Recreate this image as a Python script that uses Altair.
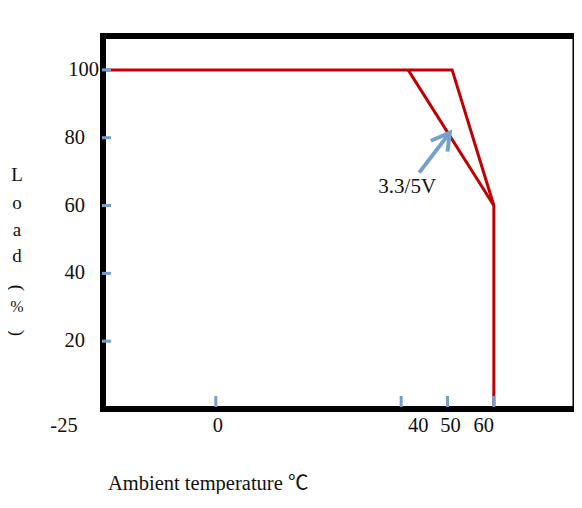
import altair as alt
import pandas as pd

# ---------------- data ----------------
x_tick_values = [0, 40, 50, 60]
x_label_values = [-25, 0, 40, 50, 60]
y_tick_values = [20, 40, 60, 80, 100]
y_label_values = [20, 40, 60, 80, 100]

main_temp = [-25, 51, 60, 60]
main_load = [100, 100, 60, 0]
v33_temp = [41.5, 60]
v33_load = [100, 60]

arrow_shaft_temp = [43.9, 50.5]
arrow_shaft_load = [69.7, 81.5]
arrow_head_temp = [46.4, 50.5, 50.0]
arrow_head_load = [79.1, 81.5, 75.9]

annot_label = ["3.3/5V"]
annot_temp = [41.3]
annot_load = [63.7]

x_title = "Ambient temperature ℃"
y_title_chars = ["L", "o", "a", "d", "(", "%", ")"]

# ---------------- styles ----------------
RED = "#c00000"
BLUE = "#76a0cb"
INK = "#111111"
SERIF = "Liberation Serif, Noto Sans CJK SC"
W, H = 474, 373
x_label_dx = [-36, 2, 17, 3, -10]      # label nudges (px), as drawn in the source figure
y_label_dx = [0, 0, 0, 0, 14]
# y-title glyph placement (px from plot top), size and rotation
y_title_y = [175, 202.5, 230, 256, 288, 307, 333]
y_title_size = [19, 19, 19, 19, 19, 16, 19]
y_title_angle = [0, 0, 0, 0, 90, 0, 90]

curves = pd.DataFrame({
    "temp": main_temp + v33_temp,
    "load": main_load + v33_load,
    "series": ["main"] * len(main_temp) + ["3.3/5V"] * len(v33_temp),
    "order": list(range(len(main_temp))) + list(range(len(v33_temp))),
})

arrow = pd.DataFrame({
    "temp": arrow_shaft_temp + arrow_head_temp,
    "load": arrow_shaft_load + arrow_head_load,
    "seg": ["shaft"] * len(arrow_shaft_temp) + ["head"] * len(arrow_head_temp),
    "order": list(range(len(arrow_shaft_temp))) + list(range(len(arrow_head_temp))),
})

annot = pd.DataFrame({"temp": annot_temp, "load": annot_load, "label": annot_label})
xticks = pd.DataFrame({"temp": x_tick_values})
yticks = pd.DataFrame({"load": y_tick_values})
one = pd.DataFrame({"k": [0]})

x_scale = alt.Scale(domain=[-25, 77.3], nice=False, zero=False)
y_scale = alt.Scale(domain=[0, 110], nice=False, zero=False)

lines = alt.Chart(curves).mark_line(color=RED, strokeWidth=3, strokeJoin="miter").encode(
    x=alt.X("temp:Q", scale=x_scale, axis=None),
    y=alt.Y("load:Q", scale=y_scale, axis=None),
    detail="series:N",
    order="order:Q",
)

arrow_layer = alt.Chart(arrow).mark_line(color=BLUE, strokeWidth=4, strokeJoin="miter", strokeCap="butt").encode(
    x=alt.X("temp:Q", axis=None),
    y=alt.Y("load:Q", axis=None),
    detail="seg:N",
    order="order:Q",
)

text_layer = alt.Chart(annot).mark_text(font=SERIF, fontSize=21, color=INK, align="center", baseline="alphabetic").encode(
    x=alt.X("temp:Q", axis=None),
    y=alt.Y("load:Q", axis=None),
    text="label:N",
)

border_top = alt.Chart(one).mark_rule(color="black", strokeWidth=6).encode(y=alt.value(0))
border_bottom = alt.Chart(one).mark_rule(color="black", strokeWidth=6).encode(y=alt.value(H))
border_left = alt.Chart(one).mark_rule(color="black", strokeWidth=6, strokeCap="square").encode(x=alt.value(3))
border_right = alt.Chart(one).mark_rule(color="black", strokeWidth=1.5).encode(x=alt.value(W - 0.75))

ytick_layer = alt.Chart(yticks).mark_rule(color=BLUE, strokeWidth=3).encode(
    y=alt.Y("load:Q", axis=None), x=alt.value(2), x2=alt.value(11)
)
xtick_layer = alt.Chart(xticks).mark_rule(color=BLUE, strokeWidth=3).encode(
    x=alt.X("temp:Q", axis=None), y=alt.value(H - 13), y2=alt.value(H - 2)
)

x_label_layers = [
    alt.Chart(pd.DataFrame({"temp": [v], "label": [str(v)]})).mark_text(
        font=SERIF, fontSize=20.5, color=INK, align="center", baseline="alphabetic", dx=dx
    ).encode(x=alt.X("temp:Q", axis=None), y=alt.value(H + 22.5), text="label:N")
    for v, dx in zip(x_label_values, x_label_dx)
]

y_label_layers = [
    alt.Chart(pd.DataFrame({"load": [v], "label": [str(v)]})).mark_text(
        font=SERIF, fontSize=20.5, color=INK, align="right", baseline="middle", dx=dx
    ).encode(y=alt.Y("load:Q", axis=None), x=alt.value(-15), text="label:N")
    for v, dx in zip(y_label_values, y_label_dx)
]

x_title_layer = alt.Chart(pd.DataFrame({"label": [x_title]})).mark_text(
    font=SERIF, fontSize=20.5, color=INK, align="left", baseline="alphabetic"
).encode(x=alt.value(8), y=alt.value(H + 81), text="label:N")

y_title_layers = [
    alt.Chart(pd.DataFrame({"label": [ch]})).mark_text(
        font=SERIF, fontSize=fs, color=INK, align="center", baseline="middle", angle=ang
    ).encode(x=alt.value(-83), y=alt.value(py - 36), text="label:N")
    for ch, py, fs, ang in zip(y_title_chars, y_title_y, y_title_size, y_title_angle)
]

chart = alt.layer(
    lines, arrow_layer, text_layer,
    border_top, border_bottom, border_left, border_right,
    ytick_layer, xtick_layer,
    *x_label_layers, *y_label_layers, x_title_layer, *y_title_layers,
).properties(
    width=W, height=H,
    padding={"left": 92, "top": 28, "right": 0, "bottom": 85},
    autosize=alt.AutoSizeParams(type="none"),
    background="white",
).configure_view(stroke=None)

chart.save("out.html", embed_options={"renderer": "svg", "actions": False})
